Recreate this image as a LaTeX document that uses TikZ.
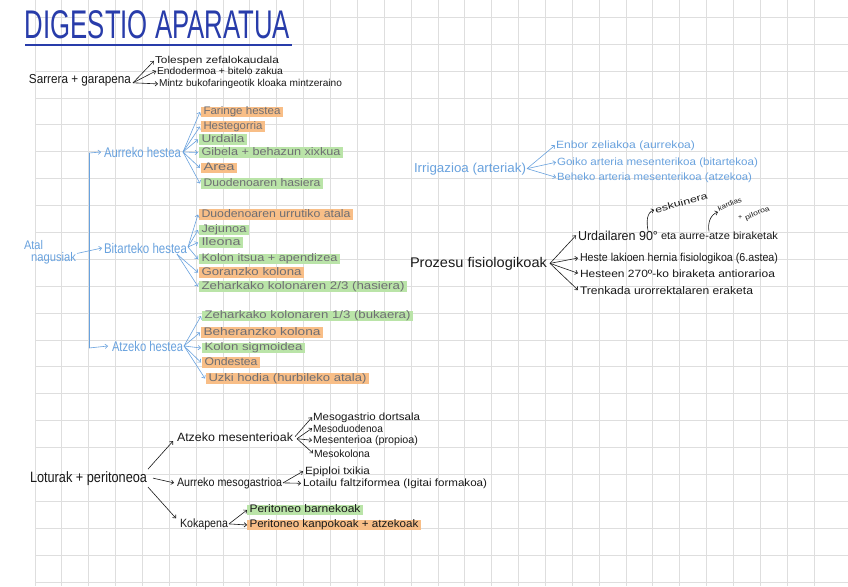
\documentclass[tikz,border=0pt]{standalone}
\usepackage{fontspec}
\setmainfont{Liberation Sans}
\usepackage{graphicx}
\usetikzlibrary{arrows.meta}
\newcommand{\fw}[2]{\resizebox{#1pt}{\height}{#2}}
\newcommand{\fsz}[1]{\fontsize{#1pt}{#1pt}\selectfont}
\definecolor{gridc}{RGB}{222,222,222}
\definecolor{tblue}{RGB}{40,60,170}
\definecolor{lblue}{RGB}{105,162,222}
\definecolor{hlO}{RGB}{248,190,135}
\definecolor{hlG}{RGB}{186,228,168}
\definecolor{hltext}{RGB}{110,110,115}
\definecolor{ink}{RGB}{25,25,25}
\begin{document}
\begin{tikzpicture}[x=1pt,y=-1pt,
  t/.style={anchor=base west, inner sep=0pt, outer sep=0pt},
  hl/.style={anchor=west, inner xsep=2.5pt, inner ysep=0pt, outer sep=0pt, text height=7.6pt, text depth=2.6pt, font=\fsz{11}, text=hltext},
  hlo/.style={hl, fill=hlO},
  hlg/.style={hl, fill=hlG},
  arr/.style={-{Straight Barb[length=2.5pt,width=4.5pt]}, line width=0.6pt},
  bl/.style={text=lblue},
  blarr/.style={arr, draw=lblue},
  bkarr/.style={arr, draw=ink},
]
\useasboundingbox (0,0) rectangle (848,586);
\fill[white] (0,0) rectangle (848,586);
% grid
\foreach \i in {0,...,29} \draw[gridc, line width=0.8pt] ({35+\i*26.862},0) -- ({35+\i*26.862},586);
\foreach \j in {0,...,21} \draw[gridc, line width=0.8pt] (35,{17.3+\j*26.89}) -- (848,{17.3+\j*26.89});

% title
\node[t, text=tblue, font=\fsz{40}] (title) at (25,39) {\fw{265}{DIGESTIO APARATUA}};
\draw[tblue, line width=2pt] ([yshift=-6pt]title.base west) -- ([yshift=-6pt,xshift=2pt]title.base east);

% Sarrera + garapena
\node[t, text=ink, font=\fsz{13}] (sar) at (29,83) {\fw{102}{Sarrera + garapena}};
\node[t, text=ink, font=\fsz{10}] (tol) at (155,63.5) {\fw{124}{Tolespen zefalokaudala}};
\node[t, text=ink, font=\fsz{10}] (endo) at (157,74.5) {\fw{126}{Endodermoa + bitelo zakua}};
\node[t, text=ink, font=\fsz{10}] (mintz) at (159,86.5) {\fw{183}{Mintz bukofaringeotik kloaka mintzeraino}};
\draw[bkarr] ([shift={(2,3)}]sar.east) -- ([xshift=-1pt]tol.west);
\draw[bkarr] ([shift={(2,3)}]sar.east) -- ([xshift=-1pt]endo.west);
\draw[bkarr] ([shift={(2,3)}]sar.east) -- ([xshift=-1pt]mintz.west);

% Atal nagusiak
\node[t, bl, font=\fsz{12.5}] (atal) at (24,249.5) {\fw{19}{Atal}};
\node[t, bl, font=\fsz{12.5}] (nag) at (31,261.5) {\fw{45}{nagusiak}};
\node[t, bl, font=\fsz{14}] (aur) at (104,157) {\fw{77}{Aurreko hestea}};
\node[t, bl, font=\fsz{14}] (bit) at (104,253) {\fw{83}{Bitarteko hestea}};
\node[t, bl, font=\fsz{14}] (atz) at (112,351) {\fw{71}{Atzeko hestea}};
\coordinate (vtop) at (89,153);
\coordinate (vbot) at (89,348);
\draw[lblue, line width=0.7pt] (vtop) -- (vbot);
\draw[blarr] (vtop) -- ([xshift=-3pt]aur.west);
\draw[blarr] (vbot) -- ([xshift=-4pt]atz.west);
\draw[blarr] ([shift={(1,1)}]nag.north east) -- ([xshift=-2pt]bit.west);

% Aurreko items
\node[hlo] (a1) at (201,112) {\fw{77}{Faringe hestea}};
\node[hlo] (a2) at (201,126.5) {\fw{59}{Hestegorria}};
\node[hlg] (a3) at (199,139.5) {\fw{43}{Urdaila}};
\node[hlg] (a4) at (199,152.5) {\fw{139}{Gibela + behazun xixkua}};
\node[hlo] (a5) at (201,168) {\fw{31}{Area}};
\node[hlg] (a6) at (201,183.5) {\fw{117}{Duodenoaren hasiera}};
\foreach \n in {a1,a2,a3,a4,a5,a6} \draw[blarr] ([shift={(2,0)}]aur.east) -- ([xshift=-1pt]\n.west);

% Bitarteko items
\node[hlo] (b1) at (199,214.5) {\fw{149}{Duodenoaren urrutiko atala}};
\node[hlg] (b2) at (199,230) {\fw{45}{Jejunoa}};
\node[hlg] (b3) at (199,242.5) {\fw{39}{Ileona}};
\node[hlg] (b4) at (199,259) {\fw{136}{Kolon itsua + apendizea}};
\node[hlo] (b5) at (199,272.5) {\fw{100}{Goranzko kolona}};
\node[hlg] (b6) at (199,286.5) {\fw{203}{Zeharkako kolonaren 2/3 (hasiera)}};
\foreach \n in {b1,b2,b3,b4} \draw[blarr] ([shift={(1,-1)}]bit.east) -- ([xshift=-1pt]\n.west);
\foreach \n in {b5,b6} \draw[blarr] ([shift={(-10,1)}]bit.south east) -- ([xshift=-1pt]\n.west);

% Atzeko items
\node[hlg] (c1) at (202,316) {\fw{206}{Zeharkako kolonaren 1/3 (bukaera)}};
\node[hlo] (c2) at (201,332.5) {\fw{117}{Beheranzko kolona}};
\node[hlg] (c3) at (202,348) {\fw{98}{Kolon sigmoidea}};
\node[hlo] (c4) at (202,362.5) {\fw{53}{Ondestea}};
\node[hlo] (c5) at (206,378.5) {\fw{158}{Uzki hodia (hurbileko atala)}};
\foreach \n in {c1,c2,c3,c4,c5} \draw[blarr] ([shift={(1,0)}]atz.east) -- ([xshift=-1pt]\n.west);

% Irrigazioa
\node[t, bl, font=\fsz{13}] (irr) at (414,172) {\fw{112}{Irrigazioa (arteriak)}};
\node[t, bl, font=\fsz{10.5}] (enb) at (556,148) {\fw{139}{Enbor zeliakoa (aurrekoa)}};
\node[t, bl, font=\fsz{10.5}] (goi) at (557,165) {\fw{201}{Goiko arteria mesenterikoa (bitartekoa)}};
\node[t, bl, font=\fsz{10.5}] (beh) at (557,180) {\fw{195}{Beheko arteria mesenterikoa (atzekoa)}};
\foreach \n in {enb,goi,beh} \draw[blarr] ([xshift=1pt]irr.east) -- ([xshift=-1pt]\n.west);

% Prozesu fisiologikoak
\node[t, text=ink, font=\fsz{14}] (pro) at (410,267) {\fw{137}{Prozesu fisiologikoak}};
\node[t, text=ink, font=\fsz{13}] (urd) at (578,240) {\fw{80}{Urdailaren 90°}};
\node[t, text=ink, font=\fsz{10.5}] (urd2) at (661,239) {\fw{117}{eta aurre-atze biraketak}};
\node[t, text=ink, font=\fsz{11.5}] (her) at (580,261) {\fw{198}{Heste lakioen hernia fisiologikoa (6.astea)}};
\node[t, text=ink, font=\fsz{10.5}] (h270) at (580,277) {\fw{195}{Hesteen 270º-ko biraketa antiorarioa}};
\node[t, text=ink, font=\fsz{11}] (tre) at (580,294) {\fw{173}{Trenkada urorrektalaren eraketa}};
\foreach \n in {urd,her,h270,tre} \draw[bkarr] ([xshift=3pt]pro.east) -- ([xshift=-2pt]\n.west);
\node[t, text=ink, font=\fsz{9}, rotate=15] (esk) at (656,213) {\fw{54}{eskuinera}};
\node[t, text=ink, font=\fsz{7}, rotate=22] (kar) at (719,211) {\fw{25}{kardias}};
\node[t, text=ink, font=\fsz{7}] (plus) at (738,219) {+};
\node[t, text=ink, font=\fsz{7}, rotate=22] (pil) at (746,220) {\fw{26}{piloroa}};
\draw[bkarr] ([xshift=-10pt]urd.north east) to[out=100, in=200] ([xshift=-1pt]esk.west);
\draw[bkarr] ([xshift=48pt]urd2.north west) to[out=100, in=200] ([shift={(-1,1)}]kar.base west);

% Loturak + peritoneoa
\node[t, text=ink, font=\fsz{15}] (lot) at (30,482) {\fw{117}{Loturak + peritoneoa}};
\node[t, text=ink, font=\fsz{12}] (atzm) at (177,441) {\fw{116}{Atzeko mesenterioak}};
\node[t, text=ink, font=\fsz{12}] (aurm) at (177,486) {\fw{105}{Aurreko mesogastrioa}};
\node[t, text=ink, font=\fsz{12}] (kok) at (180,527) {\fw{48}{Kokapena}};
\draw[bkarr] ([shift={(1,-2)}]lot.north east) -- ([xshift=-4pt]atzm.south west);
\draw[bkarr] ([xshift=6pt]lot.east) -- ([xshift=-3pt]aurm.west);
\draw[bkarr] ([shift={(1,2)}]lot.south east) -- ([xshift=-4pt]kok.north west);

\node[t, text=ink, font=\fsz{10.5}] (m1) at (313,420) {\fw{107}{Mesogastrio dortsala}};
\node[t, text=ink, font=\fsz{10.5}] (m2) at (313,432) {\fw{70}{Mesoduodenoa}};
\node[t, text=ink, font=\fsz{10.5}] (m3) at (313,443) {\fw{105}{Mesenterioa (propioa)}};
\node[t, text=ink, font=\fsz{10.5}] (m4) at (314,457) {\fw{56}{Mesokolona}};
\draw[bkarr] ([xshift=2pt]atzm.east) -- ([xshift=-1pt]m1.west);
\foreach \n in {m2,m3,m4} \draw[bkarr] ([shift={(4,2)}]atzm.east) -- ([xshift=-1pt]\n.west);

\node[t, text=ink, font=\fsz{10.5}] (epi) at (305,474) {\fw{65}{Epiploi txikia}};
\node[t, text=ink, font=\fsz{10.5}] (lotf) at (303,486) {\fw{184}{Lotailu faltziformea (Igitai formakoa)}};
\draw[bkarr] ([xshift=1pt]aurm.east) -- ([xshift=-2pt]epi.west);
\draw[bkarr] ([xshift=1pt]aurm.east) -- ([xshift=-2pt]lotf.west);

\node[hlg, text=ink] (pB) at (247,510) {\fw{111}{Peritoneo barnekoak}};
\node[hlo, text=ink] (pK) at (247,525) {\fw{169}{Peritoneo kanpokoak + atzekoak}};
\draw[bkarr] ([xshift=1pt]kok.east) -- ([xshift=0pt]pB.west);
\draw[bkarr] ([xshift=1pt]kok.east) -- ([xshift=0pt]pK.west);
\end{tikzpicture}
\end{document}
